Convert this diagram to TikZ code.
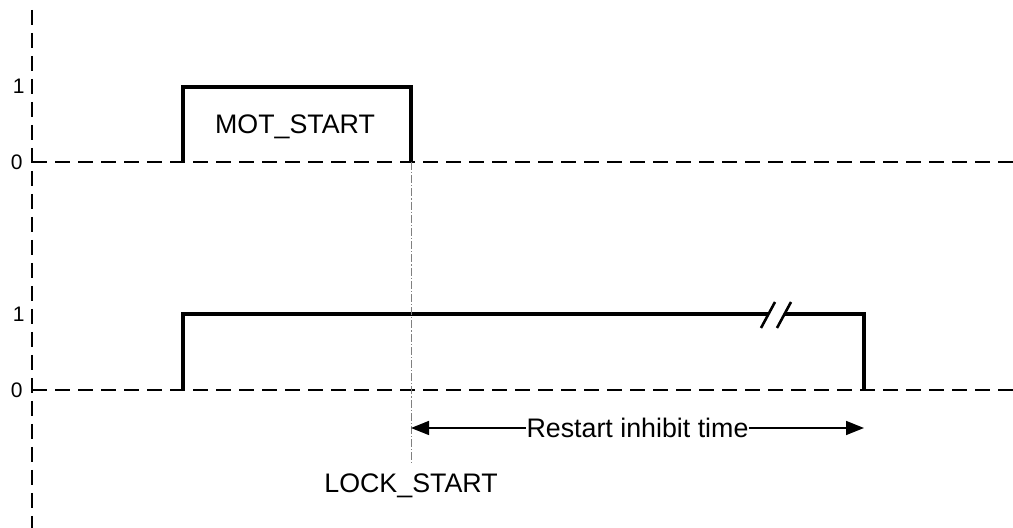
\documentclass[tikz,border=0pt]{standalone}
\usepackage{fontspec}
\setmainfont{Liberation Sans}
\usetikzlibrary{positioning,arrows.meta}

\begin{document}
\begin{tikzpicture}[x=0.5pt,y=-0.5pt]
   \tikzstyle{every node}=[inner sep=1pt]
   \tikzstyle{axis}=[line width=1.1pt,dash pattern=on 7.5pt off 4pt]
   \tikzstyle{signal}=[line width=1.6pt]
   \tikzstyle{txt}=[font=\fontsize{13.4}{15}\selectfont]
   \tikzstyle{tick}=[font=\fontsize{10.5}{12}\selectfont,anchor=east]

   \useasboundingbox (0,0) rectangle (1013,528);

   % axes
   \coordinate (top) at (32,10);
   \coordinate (bot) at (32,528);
   \coordinate (z1) at (32,162);
   \coordinate (e1) at (1013,162);
   \coordinate (z2) at (32,390);
   \coordinate (e2) at (1013,390);

   \draw [axis] (top) -- (bot) ;
   \draw [axis] (z1) -- (e1) ;
   \draw [axis] (z2) -- (e2) ;

   \node (one1) [tick] at (27,86) {1} ;
   \node (zero1) [tick] at (25,162) {0} ;
   \node (one2) [tick] at (27,314) {1} ;
   \node (zero2) [tick] at (25,390) {0} ;

   % MOT_START pulse
   \coordinate (m0) at (183,162);
   \coordinate (m1) at (411,87);
   \coordinate (m2) at (411,162);
   \draw [signal] (m0) |- (m1) -- (m2) ;
   \node (mot) [txt] at (295,127) {MOT\_START} ;

   % lock pulse
   \coordinate (l0) at (183,390);
   \coordinate (l1) at (768,314);
   \coordinate (l2) at (784,314);
   \coordinate (l3) at (864,390);
   \draw [signal] (l0) |- (l1) ;
   \draw [signal] (l2) -| (l3) ;
   \draw [line width=1.3pt] (761,328) -- (775,302) ;
   \draw [line width=1.3pt] (777,328) -- (791,302) ;

   % restart inhibit time
   \coordinate (lockend) at (411,463);
   \draw [gray,line width=0.4pt,dash pattern=on 4pt off 1pt on 0.6pt off 1pt] (m2) -- (lockend) ;
   \node (lock) [txt,below=4pt of lockend] {LOCK\_START} ;

   \coordinate (a1) at (411,428);
   \coordinate (a2) at (864,428);
   \draw [line width=0.75pt,{Triangle[length=9pt,width=7pt]}-{Triangle[length=9pt,width=7pt]}] (a1) -- node (rit) [txt,fill=white,inner sep=0.5pt] {Restart inhibit time} (a2) ;

\end{tikzpicture}
\end{document}
